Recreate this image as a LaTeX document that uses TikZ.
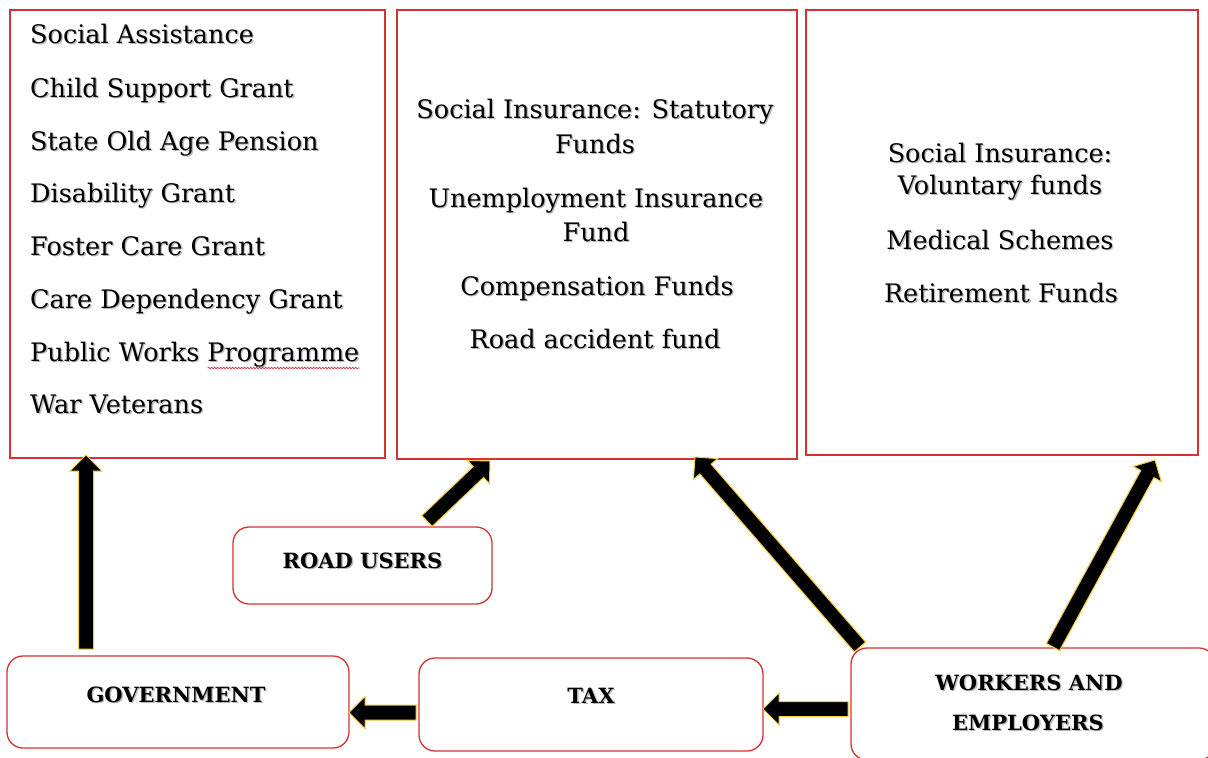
\documentclass[tikz,border=0pt]{standalone}
\usepackage{fontspec}
\setmainfont{DejaVu Serif}
\usetikzlibrary{calc,decorations.pathmorphing}

\definecolor{boxred}{RGB}{214,50,50}
\definecolor{arrowedge}{RGB}{250,205,60}
\definecolor{textshade}{RGB}{185,185,185}

% text with a soft drop shadow
\newcommand\shadowed[1]{\leavevmode\rlap{\kern1.3pt\lower1.3pt\hbox{\color{textshade}#1}}#1}

% thick black block arrow with a thin yellow rim, from #1 to #2
\newcommand\blockarrow[2]{%
  \coordinate (ba-a) at (#1);
  \coordinate (ba-b) at (#2);
  \coordinate (ba-c) at ($(ba-b)!16pt!(ba-a)$);
  \filldraw[flowarrow]
    ($(ba-a)!7.5pt!90:(ba-b)$) -- ($(ba-c)!7.5pt!90:(ba-b)$) --
    ($(ba-c)!16pt!90:(ba-b)$) -- (ba-b) --
    ($(ba-c)!16pt!-90:(ba-b)$) -- ($(ba-c)!7.5pt!-90:(ba-b)$) --
    ($(ba-a)!7.5pt!-90:(ba-b)$) -- cycle;}

\newlength\lastwordwidth

\tikzset{
  fundbox/.style={draw=boxred, line width=1.5pt, inner sep=0pt, outer sep=0pt,
    anchor=north west},
  actorbox/.style={draw=boxred, line width=1.3pt, rounded corners=16pt,
    inner sep=0pt, outer sep=0pt, anchor=north west},
  listtext/.style={inner sep=0pt, font=\fontsize{25.5}{30}\selectfont},
  actortext/.style={inner sep=0pt, anchor=base,
    font=\fontsize{21}{26}\selectfont\bfseries},
  flowarrow/.style={fill=black, draw=arrowedge, line width=1pt, line join=miter},
}

\begin{document}
\settowidth{\lastwordwidth}{\fontsize{25.5}{30}\selectfont Programme}
\begin{tikzpicture}[x=1pt, y=-1pt]
\useasboundingbox (0,0) rectangle (1208,758);
\clip (0,0) rectangle (1208,758);
\fill[white] (0,0) rectangle (1208,758);

% --- the three fund boxes ---
\node[fundbox, minimum width=375pt, minimum height=448pt] (sa) at (10,10) {};
\node[fundbox, minimum width=400pt, minimum height=449pt] (sif) at (397,10) {};
\node[fundbox, minimum width=392pt, minimum height=445pt] (vf) at (806,10) {};

% social assistance programmes
\node[listtext, anchor=base west] (sa1) at (30,43) {\shadowed{Social Assistance}};
\node[listtext, anchor=base west] (sa2) at (30,97) {\shadowed{Child Support Grant}};
\node[listtext, anchor=base west] (sa3) at (30,150) {\shadowed{State Old Age Pension}};
\node[listtext, anchor=base west] (sa4) at (30,202) {\shadowed{Disability Grant}};
\node[listtext, anchor=base west] (sa5) at (30,255) {\shadowed{Foster Care Grant}};
\node[listtext, anchor=base west] (sa6) at (30,308) {\shadowed{Care Dependency Grant}};
\node[listtext, anchor=base west] (sa7) at (30,361) {\shadowed{Public Works Programme}};
\node[listtext, anchor=base west] (sa8) at (30,413) {\shadowed{War Veterans}};
% spell-check squiggle under the last word
\draw[boxred, line width=0.7pt, decorate,
      decoration={snake, amplitude=0.8pt, segment length=3pt}]
  ($(sa7.base east)+(0,7)+(-\lastwordwidth,0pt)$) -- ($(sa7.base east)+(0,7)$);

% statutory funds
\node[listtext, anchor=base] (sif1) at (595,118) {\shadowed{Social Insurance: Statutory}};
\node[listtext, anchor=base] (sif2) at (595,153) {\shadowed{Funds}};
\node[listtext, anchor=base] (sif3) at (596,207) {\shadowed{Unemployment Insurance}};
\node[listtext, anchor=base] (sif4) at (596,241) {\shadowed{Fund}};
\node[listtext, anchor=base] (sif5) at (597,295) {\shadowed{Compensation Funds}};
\node[listtext, anchor=base] (sif6) at (595,348) {\shadowed{Road accident fund}};

% voluntary funds
\node[listtext, anchor=base] (vf1) at (1000,162) {\shadowed{Social Insurance:}};
\node[listtext, anchor=base] (vf2) at (1000,194) {\shadowed{Voluntary funds}};
\node[listtext, anchor=base] (vf3) at (1000,249) {\shadowed{Medical Schemes}};
\node[listtext, anchor=base] (vf4) at (1001,302) {\shadowed{Retirement Funds}};

% --- contributors ---
\node[actorbox, minimum width=259pt, minimum height=77pt] (ru) at (233,527) {};
\node[actorbox, minimum width=342pt, minimum height=92pt] (gov) at (7,656) {};
\node[actorbox, minimum width=344pt, minimum height=93pt] (tax) at (419,658) {};
\node[actorbox, minimum width=364pt, minimum height=112pt] (we) at (851,648) {};

\node[actortext] (rut) at (362.5,568) {\shadowed{ROAD USERS}};
\node[actortext] (govt) at (176,702) {\shadowed{GOVERNMENT}};
\node[actortext] (taxt) at (591,703) {\shadowed{TAX}};
\node[actortext] (wet1) at (1029,690) {\shadowed{WORKERS AND}};
\node[actortext] (wet2) at (1028,730) {\shadowed{EMPLOYERS}};

% --- flows ---
\coordinate (gov-out) at ($(gov.north west)+(79,-7)$);
\coordinate (sa-in) at ($(gov-out |- sa.south)+(0,-3)$);
\blockarrow{gov-out}{sa-in}

\coordinate (ru-out) at ($(ru.north west)+(194,-6)$);
\coordinate (sif-in1) at ($(sif.south west)+(93,2)$);
\blockarrow{ru-out}{sif-in1}

\coordinate (we-out1) at ($(we.north west)+(9,-1)$);
\coordinate (sif-in2) at ($(sif.south east)+(-102,-2)$);
\blockarrow{we-out1}{sif-in2}

\coordinate (we-out2) at ($(we.north west)+(202,-1)$);
\coordinate (vf-in) at ($(vf.south west)+(349,5)$);
\blockarrow{we-out2}{vf-in}

\coordinate (we-out3) at ($(we.north west)+(-3,61)$);
\coordinate (tax-in) at (tax.east |- we-out3);
\blockarrow{we-out3}{tax-in}

\coordinate (tax-out) at ($(tax.west)+(-3,8)$);
\coordinate (gov-in) at (gov.east |- tax-out);
\blockarrow{tax-out}{gov-in}
\end{tikzpicture}
\end{document}
